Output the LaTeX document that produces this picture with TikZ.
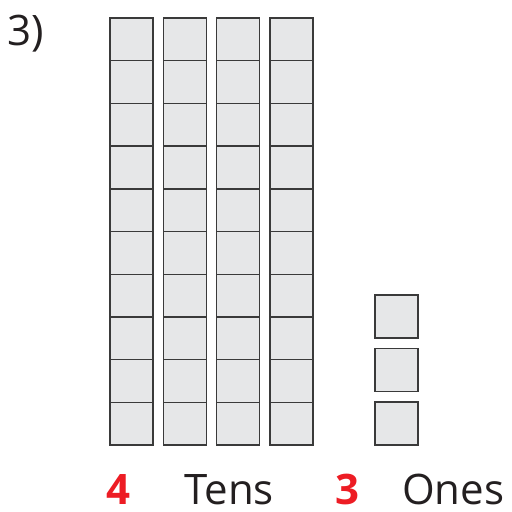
\documentclass[tikz,border=0pt]{standalone}
\usepackage{fontspec}
\setmainfont{Open Sans}
\definecolor{cellfill}{HTML}{E6E7E8}
\definecolor{cellline}{HTML}{3A3A3A}
\definecolor{numred}{HTML}{ED1C24}
\definecolor{txt}{HTML}{231F20}
\begin{document}
\begin{tikzpicture}[x=1pt,y=-1pt,
  cell/.style={draw=cellline,fill=cellfill,line width=1.4pt,minimum width=43pt,minimum height=42.7pt,inner sep=0pt,outer sep=0pt,anchor=north west},
  onecell/.style={cell,minimum height=43pt},
  lbl/.style={font=\fontsize{42}{50}\selectfont,text=txt,inner sep=0pt,anchor=base west},
  num/.style={lbl,text=numred,font=\fontsize{42}{50}\selectfont\bfseries}]
\useasboundingbox (0,0) rectangle (512,512);
\foreach \c/\x in {1/110,2/163.3,3/216.7,4/270}{
  \foreach \r in {0,...,9}{
    \node[cell] (t\c-\r) at (\x,{18+\r*42.7}) {};
  }
}
\foreach \r/\y in {1/295,2/348.5,3/402}{
  \node[onecell] (o\r) at (375,\y) {};
}
\node[lbl] (q) at (7,45) {3)};
\node[num] (n4) at (106,504) {4};
\node[lbl] (tens) at (184,504) {Tens};
\node[num] (n3) at (335,504) {3};
\node[lbl] (ones) at (402,504) {Ones};
\end{tikzpicture}
\end{document}
